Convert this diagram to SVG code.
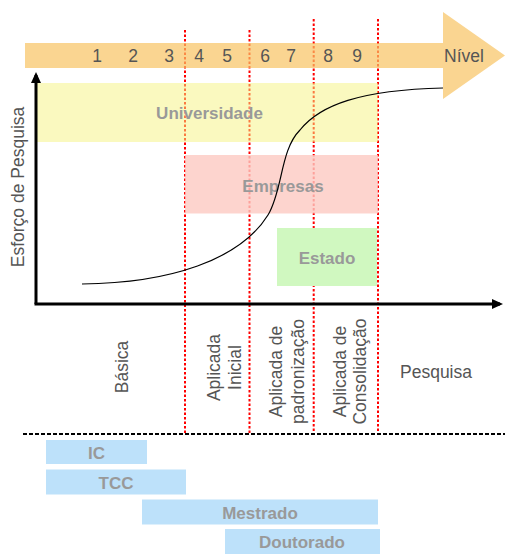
<svg xmlns="http://www.w3.org/2000/svg" width="505" height="557" viewBox="0 0 505 557">
<style>
.lbl{font-family:"Liberation Sans",Arial,sans-serif;font-size:17.5px;fill:#555}
.box{font-family:"Liberation Sans",Arial,sans-serif;font-size:17px;font-weight:bold;fill:#999;text-anchor:middle}
.mid{text-anchor:middle}
.vline{stroke:#ff0000;stroke-width:2;stroke-dasharray:2.5,2;fill:none}
.edu{fill:#bde1fa}
</style>
<defs>
<marker id="ah" markerWidth="11" markerHeight="10" refX="8" refY="5" orient="auto" markerUnits="userSpaceOnUse">
<path d="M0,0 L11,5 L0,10 Z" fill="#000"/>
</marker>
</defs>
<g id="divisores">
<line class="vline" x1="185" y1="30" x2="185" y2="434"/>
<line class="vline" x1="249.5" y1="30" x2="249.5" y2="434"/>
<line class="vline" x1="313.7" y1="19" x2="313.7" y2="434"/>
<line class="vline" x1="378" y1="19" x2="378" y2="434"/>
</g>
<g id="nivel">
<path d="M25,43 H443 V12 L505,55.5 L443,99 V68 H25 Z" fill="#f8c362" fill-opacity="0.7"/>
<text class="lbl mid" x="97" y="62">1</text>
<text class="lbl mid" x="133" y="62">2</text>
<text class="lbl mid" x="169" y="62">3</text>
<text class="lbl mid" x="199" y="62">4</text>
<text class="lbl mid" x="227" y="62">5</text>
<text class="lbl mid" x="265" y="62">6</text>
<text class="lbl mid" x="291" y="62">7</text>
<text class="lbl mid" x="328" y="62">8</text>
<text class="lbl mid" x="357" y="62">9</text>
<text class="lbl mid" x="464" y="62">Nível</text>
</g>
<g id="universidade">
<rect x="37" y="83" width="341" height="59" fill="#f5f37f" fill-opacity="0.5"/>
<text class="box" x="209.5" y="119">Universidade</text>
</g>
<g id="empresas">
<rect x="185" y="155" width="193" height="58.5" fill="#fcc9c2" fill-opacity="0.8"/>
<text class="box" x="283" y="191.5">Empresas</text>
</g>
<g id="estado">
<rect x="277" y="228" width="100" height="58" fill="#d0f8c0"/>
<text class="box" x="327" y="264">Estado</text>
</g>
<g id="connectors">
<path d="M82,284 C170,283 240,260 268,215 C283,190 280,150 300,130 C320,105 360,90 443,88" fill="none" stroke="#000" stroke-width="1.2"/>
<line x1="36" y1="304" x2="36" y2="75" stroke="#000" stroke-width="3" marker-end="url(#ah)"/>
<line x1="34.5" y1="304" x2="500" y2="304" stroke="#000" stroke-width="3" marker-end="url(#ah)"/>
<line x1="23" y1="434" x2="505" y2="434" stroke="#000" stroke-width="1.8" stroke-dasharray="4,2"/>
</g>
<g id="eixo-y">
<text class="lbl mid" transform="translate(24,187) rotate(-90)">Esforço de Pesquisa</text>
</g>
<g id="tipos">
<text class="lbl mid" transform="translate(128,367) rotate(-90)">Básica</text>
<text class="lbl mid" transform="translate(219.5,367.5) rotate(-90)"><tspan x="0" y="0">Aplicada</tspan><tspan x="0" y="21">Inicial</tspan></text>
<text class="lbl mid" transform="translate(282,371.5) rotate(-90)"><tspan x="0" y="0">Aplicada de</tspan><tspan x="0" y="22">padronização</tspan></text>
<text class="lbl mid" transform="translate(346,371.5) rotate(-90)"><tspan x="0" y="0">Aplicada de</tspan><tspan x="0" y="20">Consolidação</tspan></text>
<text class="lbl mid" x="436" y="378">Pesquisa</text>
</g>
<g id="ic">
<rect class="edu" x="46" y="440" width="101" height="24"/>
<text class="box" x="96.5" y="459">IC</text>
</g>
<g id="tcc">
<rect class="edu" x="46" y="469.5" width="140" height="25"/>
<text class="box" x="116" y="489">TCC</text>
</g>
<g id="mestrado">
<rect class="edu" x="142" y="499.5" width="236" height="25"/>
<text class="box" x="260" y="519">Mestrado</text>
</g>
<g id="doutorado">
<rect class="edu" x="225" y="529" width="155" height="25"/>
<text class="box" x="302" y="548">Doutorado</text>
</g>
</svg>
